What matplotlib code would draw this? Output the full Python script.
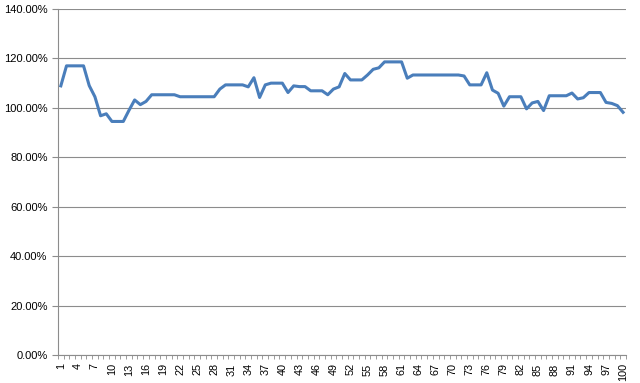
import numpy as np
import matplotlib
matplotlib.use('Agg')
import matplotlib.pyplot as plt
from matplotlib.ticker import FuncFormatter, MultipleLocator

# ── Data (percent) ───────────────────────────────────────────────────────────
categories = list(range(1, 101))
values = [
    108.9, 117.0, 117.0, 117.0, 117.0, 109.0, 104.5, 96.8, 97.6, 94.5,
    94.5, 94.5, 99.0, 103.2, 101.3, 102.6, 105.3, 105.3, 105.3, 105.3,
    105.3, 104.5, 104.5, 104.5, 104.5, 104.5, 104.5, 104.5, 107.6, 109.3,
    109.3, 109.3, 109.3, 108.5, 112.2, 104.2, 109.3, 110.0, 110.0, 110.0,
    106.2, 108.9, 108.6, 108.6, 106.9, 106.9, 106.9, 105.3, 107.6, 108.5,
    113.9, 111.3, 111.3, 111.3, 113.3, 115.6, 116.2, 118.6, 118.6, 118.6,
    118.6, 112.0, 113.3, 113.3, 113.3, 113.3, 113.3, 113.3, 113.3, 113.3,
    113.3, 112.9, 109.3, 109.3, 109.3, 114.2, 107.2, 105.9, 100.7, 104.5,
    104.5, 104.5, 99.6, 102.0, 102.6, 98.9, 104.9, 104.9, 104.9, 104.9,
    106.0, 103.6, 104.1, 106.2, 106.2, 106.2, 102.2, 101.8, 100.9, 98.2,
]
label_cats = categories[::3]

# ── Plot ──────────────────────────────────────────────────────────────────────
plt.rcParams['font.family'] = ['Liberation Sans', 'DejaVu Sans']
fig = plt.figure(figsize=(6.4, 3.83), dpi=100)
ax = fig.add_axes([0.0906, 0.0731, 0.8874, 0.9034])

ax.plot(categories, values, color='#4a7ebb', lw=2.2, solid_joinstyle='round')

ax.set_xlim(0.5, 100.5)
ax.set_ylim(0, 140)
ax.yaxis.set_major_locator(MultipleLocator(20))
ax.yaxis.set_major_formatter(FuncFormatter(lambda v, p: f'{v:.2f}%'))
ax.grid(axis='y', color='#8c8c8c', lw=0.8)
ax.set_axisbelow(True)

ax.set_xticks(label_cats)
ax.set_xticklabels([str(c) for c in label_cats], rotation=90)
ax.set_xticks(np.arange(0.5, 101, 1), minor=True)
ax.tick_params(axis='x', which='major', length=0, pad=6, labelsize=7.8)
ax.tick_params(axis='x', which='minor', length=3, color='#8c8c8c', direction='out')
ax.tick_params(axis='y', length=4, color='#8c8c8c', labelsize=8)

for s in ('top', 'right'):
    ax.spines[s].set_visible(False)
for s in ('left', 'bottom'):
    ax.spines[s].set_color('#8c8c8c')

fig.savefig('out.png', dpi=100)
